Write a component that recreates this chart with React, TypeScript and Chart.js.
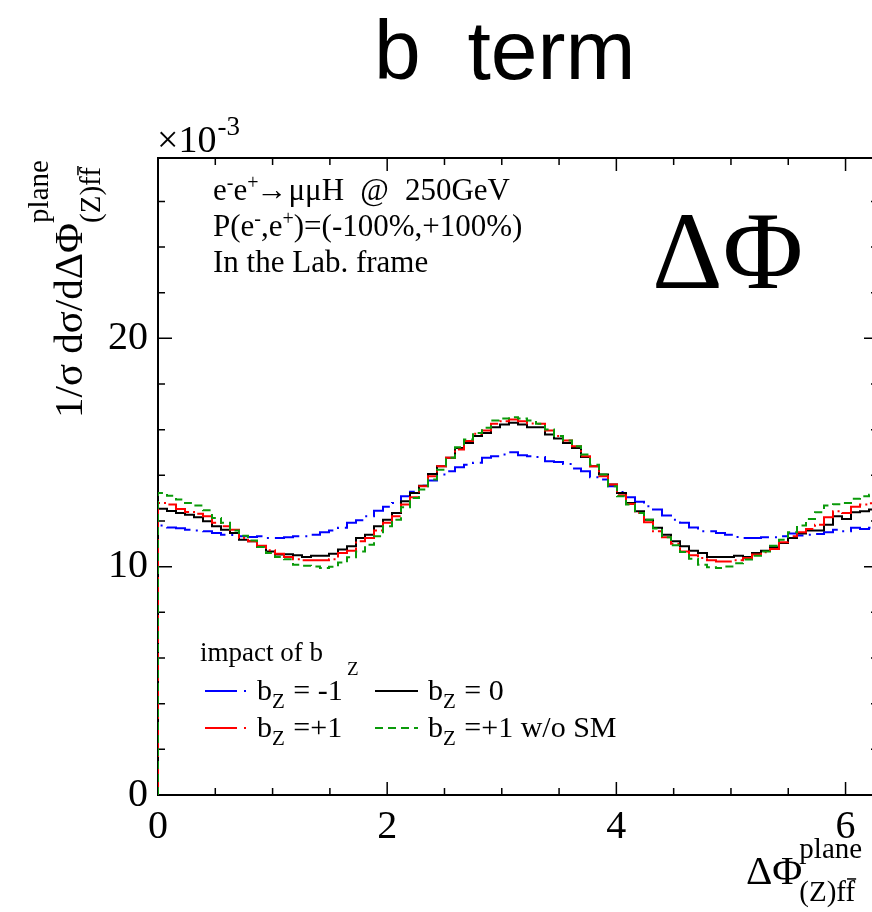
import React, { useEffect, useRef } from 'react';
import { Chart, registerables } from 'chart.js';

Chart.register(...registerables);

// ---- data (values in units of 10^-3) ----
const X_MIN = 0;
const X_MAX = 2 * Math.PI;
const Y_MIN = 0;
const Y_MAX = 27.9;
const X_TICKS = [0, 2, 4, 6];
const Y_TICKS = [0, 10, 20];

const SERIES_LABELS = ['b_Z = -1', 'b_Z = 0', 'b_Z =+1', 'b_Z =+1 w/o SM'];

const BZ_MINUS1 = [
  11.80, 11.72, 11.68, 11.62, 11.59, 11.55, 11.48, 11.40, 11.39, 11.33,
  11.30, 11.33, 11.26, 11.26, 11.29, 11.33, 11.33, 11.40, 11.51, 11.59,
  11.70, 11.92, 12.03, 12.21, 12.45, 12.62, 12.79, 13.08, 13.28, 13.55,
  13.78, 14.04, 14.18, 14.36, 14.47, 14.55, 14.77, 14.84, 14.91, 15.01,
  14.88, 14.84, 14.80, 14.62, 14.58, 14.50, 14.30, 14.18, 13.92, 13.82,
  13.52, 13.27, 13.04, 12.84, 12.65, 12.50, 12.24, 12.06, 11.92, 11.72,
  11.55, 11.55, 11.48, 11.40, 11.30, 11.26, 11.26, 11.29, 11.29, 11.33,
  11.45, 11.37, 11.40, 11.43, 11.51, 11.62, 11.55, 11.70, 11.65, 11.70,
];

const BZ_0 = [
  12.54, 12.44, 12.35, 12.27, 12.16, 11.99, 11.77, 11.62, 11.48, 11.18,
  11.11, 10.89, 10.67, 10.53, 10.55, 10.50, 10.42, 10.48, 10.48, 10.57,
  10.75, 10.89, 11.26, 11.40, 11.77, 12.06, 12.35, 12.87, 13.23, 13.55,
  14.06, 14.40, 14.77, 15.20, 15.42, 15.72, 15.86, 16.11, 16.23, 16.30,
  16.23, 16.11, 16.11, 15.79, 15.61, 15.42, 15.20, 14.80, 14.40, 14.04,
  13.60, 13.23, 12.79, 12.43, 12.06, 11.70, 11.40, 11.11, 10.89, 10.70,
  10.60, 10.42, 10.42, 10.42, 10.48, 10.42, 10.60, 10.70, 10.85, 11.04,
  11.26, 11.45, 11.58, 11.58, 11.84, 12.21, 12.09, 12.38, 12.43, 12.50,
];

const BZ_PLUS1 = [
  12.79, 12.72, 12.53, 12.40, 12.32, 12.21, 11.92, 11.77, 11.62, 11.26,
  11.11, 10.92, 10.72, 10.57, 10.42, 10.33, 10.28, 10.28, 10.28, 10.33,
  10.60, 10.70, 11.11, 11.26, 11.58, 11.92, 12.21, 12.72, 13.04, 13.52,
  13.96, 14.40, 14.77, 15.13, 15.50, 15.82, 15.96, 16.26, 16.37, 16.45,
  16.37, 16.27, 16.26, 15.96, 15.72, 15.53, 15.28, 14.84, 14.40, 13.96,
  13.60, 13.13, 12.75, 12.35, 11.95, 11.55, 11.29, 11.00, 10.67, 10.50,
  10.38, 10.28, 10.23, 10.23, 10.28, 10.38, 10.53, 10.63, 10.77, 11.07,
  11.33, 11.51, 11.65, 11.84, 12.16, 12.43, 12.35, 12.62, 12.72, 12.78,
];

const BZ_PLUS1_NOSM = [
  13.23, 13.11, 12.94, 12.79, 12.68, 12.47, 12.13, 11.92, 11.59, 11.36,
  11.15, 10.86, 10.60, 10.42, 10.33, 10.09, 10.04, 10.01, 9.94, 10.00,
  10.18, 10.41, 10.67, 10.96, 11.33, 11.77, 12.06, 12.60, 13.01, 13.38,
  13.82, 14.25, 14.77, 15.23, 15.57, 15.86, 16.08, 16.40, 16.49, 16.55,
  16.49, 16.40, 16.26, 16.01, 15.72, 15.53, 15.28, 14.91, 14.47, 14.04,
  13.52, 13.08, 12.72, 12.35, 12.06, 11.67, 11.29, 10.94, 10.64, 10.35,
  10.09, 9.98, 9.94, 10.01, 10.15, 10.31, 10.48, 10.67, 10.92, 11.18,
  11.51, 11.80, 12.09, 12.38, 12.68, 12.73, 12.79, 12.97, 13.08, 13.15,
];

// ---- layout constants ----
const CANVAS_W = 900;
const CANVAS_H = 912;
const AREA_LEFT = 158;
const AREA_TOP = 158;
const AREA_RIGHT = 878;
const AREA_BOTTOM = 795;

const SERIF = '"Liberation Serif", "DejaVu Serif", serif';
const SANS = '"Liberation Sans", Arial, sans-serif';

function histPoints(vals: number[]) {
  const w = (X_MAX - X_MIN) / vals.length;
  const pts: { x: number; y: number }[] = [{ x: X_MIN, y: 0 }];
  vals.forEach((v, i) => pts.push({ x: X_MIN + i * w, y: v }));
  pts.push({ x: X_MAX, y: vals[vals.length - 1] });
  return pts;
}

function drawSubLabel(ctx: CanvasRenderingContext2D, x: number, y: number, base: string, sub: string, rest: string) {
  ctx.font = `30px ${SERIF}`;
  ctx.fillText(base, x, y);
  let cx = x + ctx.measureText(base).width;
  ctx.font = `21px ${SERIF}`;
  ctx.fillText(sub, cx, y + 8);
  cx += ctx.measureText(sub).width + 1;
  ctx.font = `30px ${SERIF}`;
  ctx.fillText(rest, cx, y);
}

function drawFfbar(ctx: CanvasRenderingContext2D, x: number, y: number, size: number) {
  ctx.font = `${size}px ${SERIF}`;
  ctx.fillText('(Z)ff', x, y);
  const w1 = ctx.measureText('(Z)f').width;
  const w2 = ctx.measureText('(Z)ff').width;
  ctx.save();
  ctx.lineWidth = 1.5;
  ctx.strokeStyle = '#000';
  ctx.beginPath();
  const oy = y - size * 0.76;
  ctx.moveTo(x + w1 + 1, oy);
  ctx.lineTo(x + w2 + 1, oy);
  ctx.stroke();
  ctx.restore();
}

// text with small raised pieces: parts = [text, raised?]
function drawMixed(ctx: CanvasRenderingContext2D, x: number, y: number, parts: [string, boolean][]) {
  let cx = x;
  parts.forEach(([t, sup]) => {
    ctx.font = sup ? `20px ${SERIF}` : `31px ${SERIF}`;
    ctx.fillText(t, cx, sup ? y - 11 : y);
    cx += ctx.measureText(t).width;
  });
  return cx;
}

const framePlugin = {
  id: 'rootFrame',
  beforeDatasetsDraw(chart: any) {
    const { ctx, chartArea: a, scales } = chart;
    const xs = scales.x;
    const ys = scales.y;
    ctx.save();
    ctx.strokeStyle = '#000';
    ctx.lineWidth = 2;
    ctx.strokeRect(a.left, a.top, a.right - a.left, a.bottom - a.top);
    ctx.lineWidth = 1.5;
    ctx.beginPath();
    for (let v = 0; v <= X_MAX + 1e-9; v += 0.5) {
      const px = xs.getPixelForValue(v);
      const major = Math.abs(v - Math.round(v / 2) * 2) < 1e-9;
      const len = major ? 13 : 7;
      ctx.moveTo(px, a.bottom);
      ctx.lineTo(px, a.bottom - len);
      ctx.moveTo(px, a.top);
      ctx.lineTo(px, a.top + len);
    }
    for (let v = 0; v <= Y_MAX + 1e-9; v += 2) {
      const py = ys.getPixelForValue(v);
      const major = v % 10 === 0;
      const len = major ? 14 : 7;
      ctx.moveTo(a.left, py);
      ctx.lineTo(a.left + len, py);
      ctx.moveTo(a.right, py);
      ctx.lineTo(a.right - len, py);
    }
    ctx.stroke();
    ctx.restore();
  },
  afterDraw(chart: any) {
    const { ctx } = chart;
    ctx.save();
    ctx.fillStyle = '#000';
    ctx.textAlign = 'left';
    ctx.textBaseline = 'alphabetic';

    // title
    ctx.font = `84px ${SANS}`;
    ctx.fillText('b  term', 374, 79);

    // exponent label
    ctx.font = `38px ${SERIF}`;
    ctx.fillText('\u00d710', 157, 152);
    const ew = ctx.measureText('\u00d710').width;
    ctx.font = `27px ${SERIF}`;
    ctx.fillText('-3', 157 + ew + 1, 135);

    // info text
    let ex = drawMixed(ctx, 213, 200, [['e', false], ['-', true], ['e', false], ['+', true]]);
    ex = drawMixed(ctx, ex - 2, 200, [['\u2192', false]]);
    ex = drawMixed(ctx, ex + 1, 200, [['\u03bc\u03bcH', false]]);
    ctx.font = `31px ${SERIF}`;
    const gw = ctx.measureText('250GeV').width;
    const gx = 510 - gw;
    const aw = ctx.measureText('@').width;
    ctx.fillText('@', (ex + gx) / 2 - aw / 2, 200);
    ctx.fillText('250GeV', gx, 200);
    drawMixed(ctx, 213, 236, [['P(e', false], ['-', true], [',e', false], ['+', true], [')=(-100%,+100%)', false]]);
    drawMixed(ctx, 213, 272, [['In the Lab. frame', false]]);

    // big Delta Phi
    ctx.font = `110px ${SERIF}`;
    ctx.fillText('\u0394\u03a6', 652, 288);

    // y-axis title (rotated)
    ctx.save();
    ctx.translate(82, 418);
    ctx.rotate(-Math.PI / 2);
    ctx.font = `41px ${SERIF}`;
    ctx.fillText('1/\u03c3 d\u03c3/d\u0394\u03a6', 0, 0);
    const yw = ctx.measureText('1/\u03c3 d\u03c3/d\u0394\u03a6').width;
    ctx.font = `29px ${SERIF}`;
    ctx.fillText('plane', yw, -34);
    drawFfbar(ctx, yw, 18, 29);
    ctx.restore();

    // x-axis title
    ctx.font = `41px ${SERIF}`;
    ctx.fillText('\u0394\u03a6', 746, 884);
    const xw = ctx.measureText('\u0394\u03a6').width;
    ctx.font = `29px ${SERIF}`;
    ctx.fillText('plane', 746 + xw - 3, 858);
    drawFfbar(ctx, 746 + xw - 3, 901, 29);

    // legend
    ctx.font = `27px ${SERIF}`;
    ctx.fillText('impact of b', 200, 661);
    ctx.font = `19px ${SERIF}`;
    ctx.fillText('Z', 347, 675);

    const ds = chart.data.datasets;
    const rows = [
      { i: 0, lx: 205, ly: 691, tx: 257, ty: 700, dot: true },
      { i: 1, lx: 375, ly: 691, tx: 428, ty: 700, dot: false },
      { i: 2, lx: 205, ly: 728, tx: 257, ty: 737, dot: true },
      { i: 3, lx: 375, ly: 728, tx: 428, ty: 737, dot: false },
    ];
    rows.forEach((r) => {
      const d = ds[r.i];
      ctx.save();
      ctx.strokeStyle = d.borderColor;
      ctx.lineWidth = 2;
      if (r.dot) {
        ctx.beginPath();
        ctx.moveTo(r.lx, r.ly);
        ctx.lineTo(r.lx + 32, r.ly);
        ctx.moveTo(r.lx + 39, r.ly);
        ctx.lineTo(r.lx + 41, r.ly);
        ctx.stroke();
      } else {
        ctx.setLineDash(d.borderDash || []);
        ctx.beginPath();
        ctx.moveTo(r.lx, r.ly);
        ctx.lineTo(r.lx + 43, r.ly);
        ctx.stroke();
      }
      ctx.restore();
      const label: string = SERIES_LABELS[r.i];
      const m = label.match(/^(b)_(Z)(.*)$/);
      if (m) drawSubLabel(ctx, r.tx, r.ty, m[1], m[2], m[3]);
    });

    ctx.restore();
  },
};

export default function App() {
  const ref = useRef<HTMLCanvasElement | null>(null);
  useEffect(() => {
    if (!ref.current) return;
    const chart = new Chart(ref.current, {
      type: 'line',
      data: {
        datasets: [
          {
            label: SERIES_LABELS[0],
            data: histPoints(BZ_MINUS1),
            borderColor: '#0000ff',
            borderWidth: 2,
            borderDash: [26, 6, 2, 6],
            stepped: true,
            pointRadius: 0,
            order: 3,
          },
          {
            label: SERIES_LABELS[1],
            data: histPoints(BZ_0),
            borderColor: '#000000',
            borderWidth: 2,
            stepped: true,
            pointRadius: 0,
            order: 2,
          },
          {
            label: SERIES_LABELS[2],
            data: histPoints(BZ_PLUS1),
            borderColor: '#ff0000',
            borderWidth: 2,
            borderDash: [28, 4, 2, 4],
            stepped: true,
            pointRadius: 0,
            order: 1,
          },
          {
            label: SERIES_LABELS[3],
            data: histPoints(BZ_PLUS1_NOSM),
            borderColor: '#0a9a0a',
            borderWidth: 2,
            borderDash: [8, 5],
            stepped: true,
            pointRadius: 0,
            order: 0,
          },
        ],
      } as any,
      options: {
        animation: false,
        responsive: false,
        maintainAspectRatio: false,
        devicePixelRatio: 1,
        layout: { padding: { left: 0, top: AREA_TOP, right: CANVAS_W - AREA_RIGHT, bottom: 0 } },
        plugins: { legend: { display: false }, tooltip: { enabled: false }, title: { display: false } },
        scales: {
          x: {
            type: 'linear',
            min: X_MIN,
            max: X_MAX,
            afterFit: (s: any) => { s.height = CANVAS_H - AREA_BOTTOM; },
            afterBuildTicks: (s: any) => { s.ticks = X_TICKS.map((v) => ({ value: v })); },
            grid: { display: false, drawTicks: false },
            border: { display: false },
            ticks: { color: '#000', font: { family: SERIF, size: 40 }, padding: 8, maxRotation: 0, autoSkip: false },
          },
          y: {
            type: 'linear',
            min: Y_MIN,
            max: Y_MAX,
            afterFit: (s: any) => { s.width = AREA_LEFT; },
            afterBuildTicks: (s: any) => { s.ticks = Y_TICKS.map((v) => ({ value: v })); },
            grid: { display: false, drawTicks: false },
            border: { display: false },
            ticks: { color: '#000', font: { family: SERIF, size: 40 }, padding: 10 },
          },
        },
      } as any,
      plugins: [framePlugin],
    });
    return () => chart.destroy();
  }, []);
  return (
    <div style={{ position: 'fixed', left: 0, top: 0, width: 872, height: 912, overflow: 'hidden', background: '#fff' }}>
      <canvas ref={ref} width={CANVAS_W} height={CANVAS_H} style={{ display: 'block' }} />
    </div>
  );
}
